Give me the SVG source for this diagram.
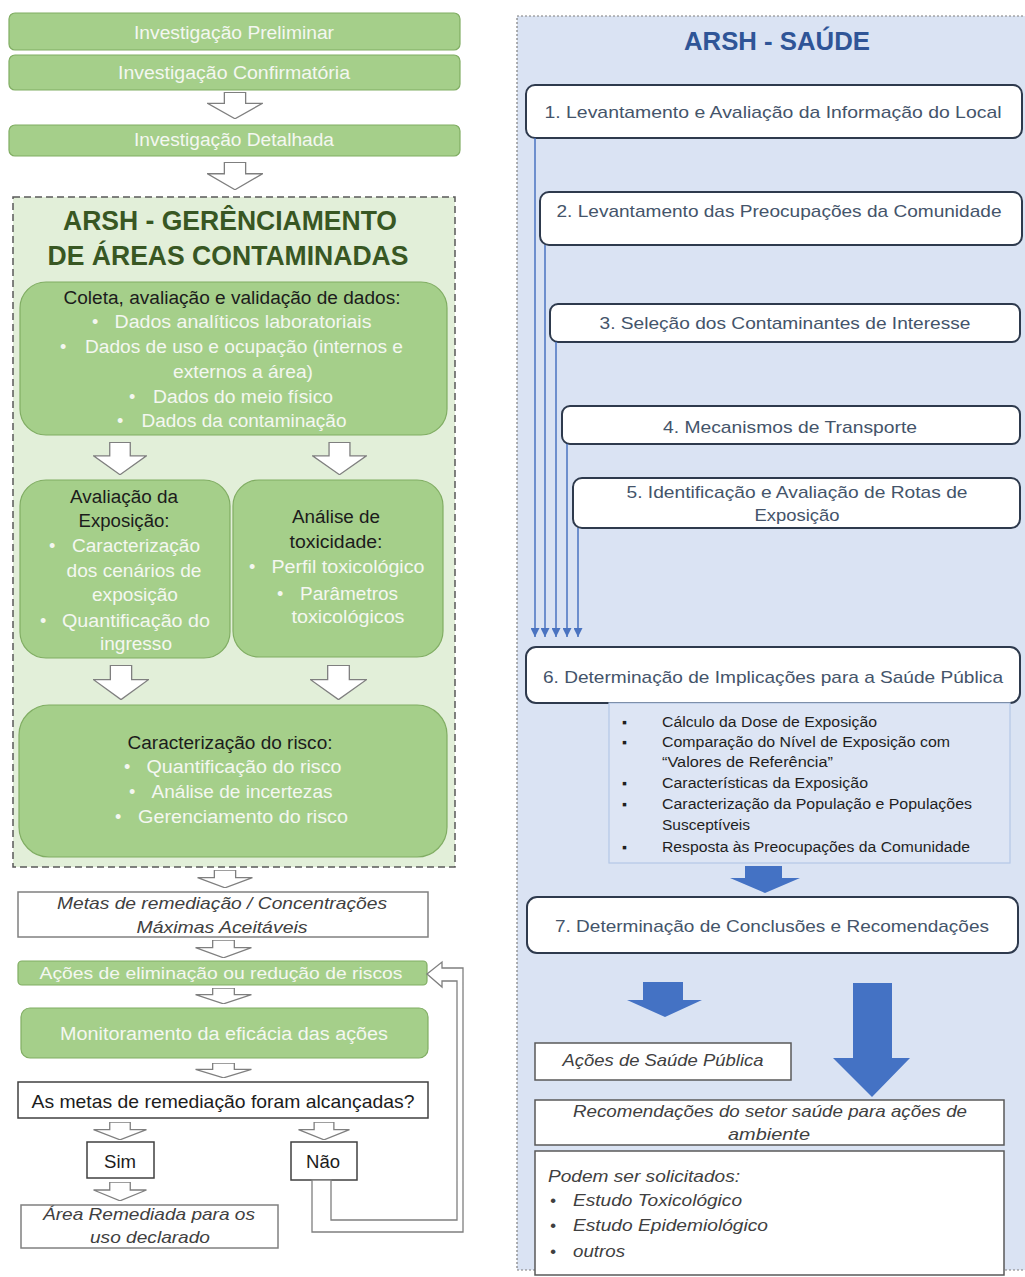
<svg xmlns="http://www.w3.org/2000/svg" xmlns:xlink="http://www.w3.org/1999/xlink" width="1025" height="1277" viewBox="0 0 1025 1277">
<style>
text{font-family:"Liberation Sans",Arial,sans-serif}
.gbox{fill:#a5cf8a;stroke:#80ad63;stroke-width:1.2}
.gt{fill:#f4f7f1;font-size:18px;text-anchor:middle}
.gb{fill:#f4f7f1;font-size:18px;text-anchor:start}
.gd{fill:#1c1c1c;font-size:18px;text-anchor:middle}
.title{fill:#385723;font-size:27px;font-weight:bold;text-anchor:middle}
.wbox{fill:#ffffff;stroke:#808080;stroke-width:1.5}
.it{fill:#404040;font-size:17px;font-style:italic;text-anchor:middle}
.itl{fill:#404040;font-size:17px;font-style:italic;text-anchor:start}
.bbox{fill:#ffffff;stroke:#2e3a4d;stroke-width:2}
.bt{fill:#44546a;font-size:17px;text-anchor:middle}
.lt{fill:#1f1f1f;font-size:14px}
.conn{stroke:#4a73c0;stroke-width:1.5;fill:none}
.blue{fill:#4472c4}
.harrow{fill:#ffffff;stroke:#7f7f7f;stroke-width:1.3}
</style>
<defs>
<marker id="ah" viewBox="0 0 10 10" refX="10" refY="5" markerWidth="9" markerHeight="9" markerUnits="userSpaceOnUse" orient="auto">
<path d="M0,0 L10,5 L0,10 Z" fill="#4a73c0"/>
</marker>
<symbol id="hollow" viewBox="0 0 100 100" preserveAspectRatio="none">
<polygon points="31,1 69,1 69,42 99,42 50,99 1,42 31,42" fill="#ffffff" stroke="#7f7f7f" stroke-width="1.3" vector-effect="non-scaling-stroke"/>
</symbol>
</defs>
<rect width="1025" height="1277" fill="#ffffff"/>

<!-- containers -->
<g id="container-left">
<rect x="13" y="197" width="442" height="670" fill="#e2efd9" stroke="#5a5a5a" stroke-width="1.5" stroke-dasharray="7,4"/>
<text class="title" x="230" y="230" textLength="334" lengthAdjust="spacingAndGlyphs">ARSH - GERÊNCIAMENTO</text>
<text class="title" x="228" y="265" textLength="361" lengthAdjust="spacingAndGlyphs">DE ÁREAS CONTAMINADAS</text>
</g>
<g id="container-right">
<rect x="517" y="16" width="520" height="1254" fill="#dae3f3" stroke="#7f7f7f" stroke-width="1.2" stroke-dasharray="2,2"/>
<text x="777" y="50" fill="#2f5597" font-size="26" font-weight="bold" text-anchor="middle" textLength="186" lengthAdjust="spacingAndGlyphs">ARSH - SAÚDE</text>
</g>

<!-- left nodes -->
<g id="inv-preliminar">
<rect class="gbox" x="9" y="13" width="451" height="37" rx="6"/>
<text class="gt" x="234" y="39" textLength="200" lengthAdjust="spacingAndGlyphs">Investigação Preliminar</text>
</g>
<g id="inv-confirmatoria">
<rect class="gbox" x="9" y="55" width="451" height="35" rx="6"/>
<text class="gt" x="234" y="79" textLength="232" lengthAdjust="spacingAndGlyphs">Investigação Confirmatória</text>
</g>
<g id="inv-detalhada">
<rect class="gbox" x="9" y="125" width="451" height="31" rx="6"/>
<text class="gt" x="234" y="146" textLength="200" lengthAdjust="spacingAndGlyphs">Investigação Detalhada</text>
</g>
<g id="coleta">
<rect class="gbox" x="20" y="282" width="427" height="153" rx="26"/>
<text class="gd" x="232" y="304" textLength="337" lengthAdjust="spacingAndGlyphs">Coleta, avaliação e validação de dados:</text>
<text class="gb" x="92" y="328">•</text>
<text class="gt" x="243" y="328" textLength="257" lengthAdjust="spacingAndGlyphs">Dados analíticos laboratoriais</text>
<text class="gb" x="60" y="353">•</text>
<text class="gt" x="244" y="353" textLength="318" lengthAdjust="spacingAndGlyphs">Dados de uso e ocupação (internos e</text>
<text class="gt" x="243" y="378" textLength="140" lengthAdjust="spacingAndGlyphs">externos a área)</text>
<text class="gb" x="129" y="403">•</text>
<text class="gt" x="243" y="403" textLength="180" lengthAdjust="spacingAndGlyphs">Dados do meio físico</text>
<text class="gb" x="117" y="427">•</text>
<text class="gt" x="244" y="427" textLength="205" lengthAdjust="spacingAndGlyphs">Dados da contaminação</text>
</g>
<g id="avaliacao-exposicao">
<rect class="gbox" x="20" y="480" width="210" height="178" rx="26"/>
<text class="gd" x="124" y="503" textLength="108" lengthAdjust="spacingAndGlyphs">Avaliação da</text>
<text class="gd" x="124" y="527" textLength="91" lengthAdjust="spacingAndGlyphs">Exposição:</text>
<text class="gb" x="49" y="552">•</text>
<text class="gt" x="136" y="552" textLength="128" lengthAdjust="spacingAndGlyphs">Caracterização</text>
<text class="gt" x="134" y="577" textLength="135" lengthAdjust="spacingAndGlyphs">dos cenários de</text>
<text class="gt" x="135" y="601" textLength="86" lengthAdjust="spacingAndGlyphs">exposição</text>
<text class="gb" x="40" y="627">•</text>
<text class="gt" x="136" y="627" textLength="148" lengthAdjust="spacingAndGlyphs">Quantificação do</text>
<text class="gt" x="136" y="650" textLength="72" lengthAdjust="spacingAndGlyphs">ingresso</text>
</g>
<g id="analise-toxicidade">
<rect class="gbox" x="233" y="480" width="210" height="177" rx="26"/>
<text class="gd" x="336" y="523" textLength="88" lengthAdjust="spacingAndGlyphs">Análise de</text>
<text class="gd" x="336" y="548" textLength="93" lengthAdjust="spacingAndGlyphs">toxicidade:</text>
<text class="gb" x="249" y="573">•</text>
<text class="gt" x="348" y="573" textLength="153" lengthAdjust="spacingAndGlyphs">Perfil toxicológico</text>
<text class="gb" x="277" y="600">•</text>
<text class="gt" x="349" y="600" textLength="98" lengthAdjust="spacingAndGlyphs">Parâmetros</text>
<text class="gt" x="348" y="623" textLength="113" lengthAdjust="spacingAndGlyphs">toxicológicos</text>
</g>
<g id="caracterizacao-risco">
<rect class="gbox" x="19" y="705" width="428" height="152" rx="30"/>
<text class="gd" x="230" y="749" textLength="205" lengthAdjust="spacingAndGlyphs">Caracterização do risco:</text>
<text class="gb" x="124" y="773">•</text>
<text class="gt" x="244" y="773" textLength="195" lengthAdjust="spacingAndGlyphs">Quantificação do risco</text>
<text class="gb" x="129" y="798">•</text>
<text class="gt" x="242" y="798" textLength="181" lengthAdjust="spacingAndGlyphs">Análise de incertezas</text>
<text class="gb" x="115" y="823">•</text>
<text class="gt" x="243" y="823" textLength="210" lengthAdjust="spacingAndGlyphs">Gerenciamento do risco</text>
</g>
<g id="metas">
<rect class="wbox" x="18" y="892" width="410" height="45"/>
<text class="it" x="222" y="909" textLength="330" lengthAdjust="spacingAndGlyphs">Metas de remediação / Concentrações</text>
<text class="it" x="222" y="933" textLength="171" lengthAdjust="spacingAndGlyphs">Máximas Aceitáveis</text>
</g>
<g id="acoes-eliminacao">
<rect class="gbox" x="18" y="961" width="409" height="24" rx="4"/>
<text class="gt" x="221" y="979" style="font-size:17px" textLength="363" lengthAdjust="spacingAndGlyphs">Ações de eliminação ou redução de riscos</text>
</g>
<g id="monitoramento">
<rect class="gbox" x="21" y="1008" width="407" height="50" rx="9"/>
<text class="gt" x="224" y="1040" textLength="328" lengthAdjust="spacingAndGlyphs">Monitoramento  da eficácia das ações</text>
</g>
<g id="pergunta">
<rect x="18" y="1082" width="410" height="36" fill="#ffffff" stroke="#404040" stroke-width="1.5"/>
<text class="gd" x="223" y="1108" style="font-size:19px" textLength="383" lengthAdjust="spacingAndGlyphs">As metas de remediação foram alcançadas?</text>
</g>
<g id="sim">
<rect x="87" y="1142" width="67" height="36" fill="#ffffff" stroke="#404040" stroke-width="1.5"/>
<text class="gd" x="120" y="1168" textLength="32" lengthAdjust="spacingAndGlyphs">Sim</text>
</g>
<g id="nao">
<rect x="291" y="1142" width="66" height="38" fill="#ffffff" stroke="#404040" stroke-width="1.5"/>
<text class="gd" x="323" y="1168" textLength="34" lengthAdjust="spacingAndGlyphs">Não</text>
</g>
<g id="area-remediada">
<rect class="wbox" x="21" y="1205" width="257" height="43"/>
<text class="it" x="149" y="1220" textLength="212" lengthAdjust="spacingAndGlyphs">Área Remediada para os</text>
<text class="it" x="150" y="1243" textLength="120" lengthAdjust="spacingAndGlyphs">uso declarado</text>
</g>

<!-- right nodes -->
<g id="passo1">
<rect class="bbox" x="526" y="85" width="496" height="53" rx="9"/>
<text class="bt" x="773" y="118" textLength="457" lengthAdjust="spacingAndGlyphs">1. Levantamento e Avaliação da Informação do Local</text>
</g>
<g id="passo2">
<rect class="bbox" x="540" y="192" width="482" height="53" rx="9"/>
<text class="bt" x="779" y="217" textLength="445" lengthAdjust="spacingAndGlyphs">2. Levantamento das Preocupações da Comunidade</text>
</g>
<g id="passo3">
<rect class="bbox" x="550" y="304" width="470" height="38" rx="8"/>
<text class="bt" x="785" y="329" textLength="371" lengthAdjust="spacingAndGlyphs">3. Seleção dos Contaminantes de Interesse</text>
</g>
<g id="passo4">
<rect class="bbox" x="562" y="406" width="458" height="38" rx="8"/>
<text class="bt" x="790" y="433" textLength="254" lengthAdjust="spacingAndGlyphs">4. Mecanismos de Transporte</text>
</g>
<g id="passo5">
<rect class="bbox" x="573" y="478" width="447" height="50" rx="9"/>
<text class="bt" x="797" y="498" textLength="341" lengthAdjust="spacingAndGlyphs">5. Identificação e Avaliação de Rotas de</text>
<text class="bt" x="797" y="521" textLength="85" lengthAdjust="spacingAndGlyphs">Exposição</text>
</g>
<g id="passo6">
<rect class="bbox" x="526" y="647" width="494" height="56" rx="10"/>
<text class="bt" x="773" y="683" textLength="460" lengthAdjust="spacingAndGlyphs">6. Determinação de Implicações para a Saúde Pública</text>
</g>
<g id="passo6-lista">
<rect x="609" y="703" width="401" height="160" fill="#dde5f4" stroke="#b4c7e7" stroke-width="1.2"/>
<text class="lt" x="622" y="727">▪</text>
<text class="lt" x="662" y="727" textLength="215" lengthAdjust="spacingAndGlyphs">Cálculo da Dose de Exposição</text>
<text class="lt" x="622" y="747">▪</text>
<text class="lt" x="662" y="747" textLength="288" lengthAdjust="spacingAndGlyphs">Comparação do Nível de Exposição com</text>
<text class="lt" x="662" y="767" textLength="171" lengthAdjust="spacingAndGlyphs">“Valores de Referência”</text>
<text class="lt" x="622" y="788">▪</text>
<text class="lt" x="662" y="788" textLength="206" lengthAdjust="spacingAndGlyphs">Características da Exposição</text>
<text class="lt" x="622" y="809">▪</text>
<text class="lt" x="662" y="809" textLength="310" lengthAdjust="spacingAndGlyphs">Caracterização da População e Populações</text>
<text class="lt" x="662" y="830" textLength="88" lengthAdjust="spacingAndGlyphs">Susceptíveis</text>
<text class="lt" x="622" y="852">▪</text>
<text class="lt" x="662" y="852" textLength="308" lengthAdjust="spacingAndGlyphs">Resposta às Preocupações da Comunidade</text>
</g>
<g id="passo7">
<rect class="bbox" x="527" y="897" width="491" height="56" rx="10"/>
<text class="bt" x="772" y="932" textLength="434" lengthAdjust="spacingAndGlyphs">7. Determinação de Conclusões e Recomendações</text>
</g>
<g id="acoes-saude">
<rect x="535" y="1043" width="256" height="37" fill="#ffffff" stroke="#595959" stroke-width="1.5"/>
<text class="it" x="663" y="1066" textLength="201" lengthAdjust="spacingAndGlyphs">Ações de Saúde Pública</text>
</g>
<g id="recomendacoes">
<rect x="535" y="1100" width="469" height="45" fill="#ffffff" stroke="#595959" stroke-width="1.5"/>
<text class="it" x="770" y="1117" textLength="394" lengthAdjust="spacingAndGlyphs">Recomendações do setor saúde para ações de</text>
<text class="it" x="769" y="1140" textLength="82" lengthAdjust="spacingAndGlyphs">ambiente</text>
</g>
<g id="solicitados">
<rect x="535" y="1151" width="469" height="124" fill="#ffffff" stroke="#595959" stroke-width="1.5"/>
<text class="itl" x="548" y="1182" textLength="192" lengthAdjust="spacingAndGlyphs">Podem ser solicitados:</text>
<text class="itl" x="550" y="1206">•</text>
<text class="itl" x="573" y="1206" textLength="169" lengthAdjust="spacingAndGlyphs">Estudo Toxicológico</text>
<text class="itl" x="550" y="1231">•</text>
<text class="itl" x="573" y="1231" textLength="195" lengthAdjust="spacingAndGlyphs">Estudo Epidemiológico</text>
<text class="itl" x="550" y="1257">•</text>
<text class="itl" x="573" y="1257" textLength="52" lengthAdjust="spacingAndGlyphs">outros</text>
</g>

<!-- connectors -->
<g id="connectors">
<use href="#hollow" x="207" y="92" width="56" height="27"/>
<use href="#hollow" x="207" y="162" width="56" height="28"/>
<use href="#hollow" x="93" y="442" width="54" height="33"/>
<use href="#hollow" x="312" y="442" width="55" height="33"/>
<use href="#hollow" x="93" y="665" width="56" height="35"/>
<use href="#hollow" x="310" y="665" width="57" height="35"/>
<use href="#hollow" x="197" y="870" width="56" height="18"/>
<use href="#hollow" x="195" y="940" width="57" height="18"/>
<use href="#hollow" x="195" y="988" width="57" height="16"/>
<use href="#hollow" x="195" y="1063" width="57" height="15"/>
<use href="#hollow" x="93" y="1122" width="54" height="18"/>
<use href="#hollow" x="298" y="1122" width="52" height="18"/>
<use href="#hollow" x="93" y="1182" width="54" height="19"/>
<polygon class="harrow" points="312,1180 312,1232 463,1232 463,968 442,968 442,962 427,974 442,987 442,981 457,981 457,1220 331,1220 331,1180"/>

<line class="conn" x1="535" y1="138" x2="535" y2="637" marker-end="url(#ah)"/>
<line class="conn" x1="545" y1="245" x2="545" y2="637" marker-end="url(#ah)"/>
<line class="conn" x1="556" y1="342" x2="556" y2="637" marker-end="url(#ah)"/>
<line class="conn" x1="567" y1="444" x2="567" y2="637" marker-end="url(#ah)"/>
<line class="conn" x1="578" y1="528" x2="578" y2="637" marker-end="url(#ah)"/>

<polygon class="blue" points="745,866 782,866 782,878 800,878 765,893 730,878 745,878"/>
<polygon class="blue" points="643,982 683,982 683,1000 702,1000 665,1017 627,1000 643,1000"/>
<polygon class="blue" points="853,983 892,983 892,1058 910,1058 872,1097 833,1058 853,1058"/>
</g>
</svg>
